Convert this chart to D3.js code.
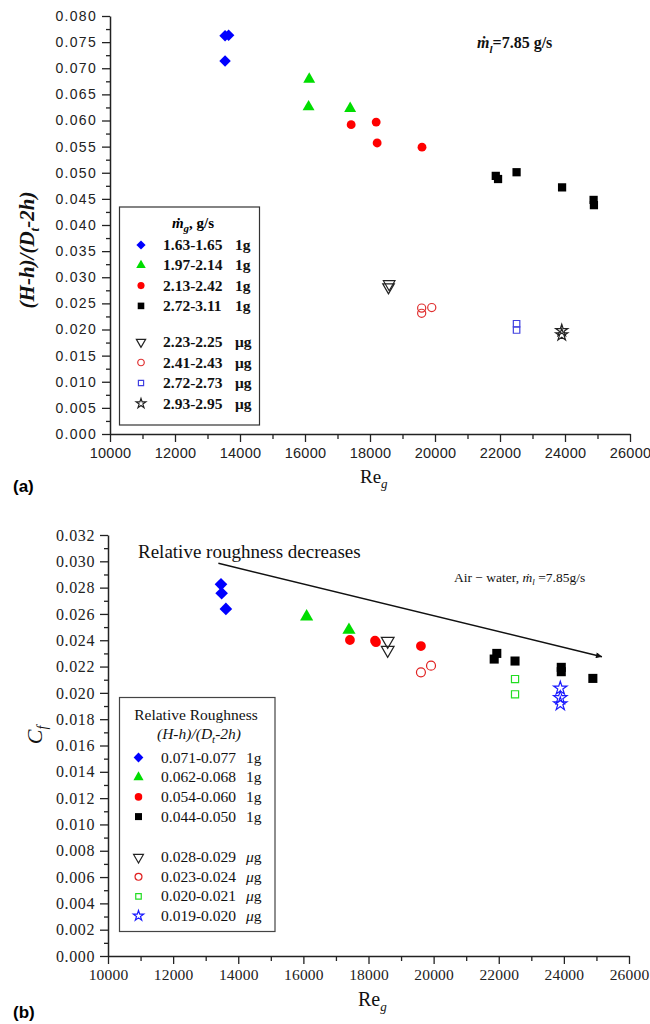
<!DOCTYPE html>
<html><head><meta charset="utf-8">
<script src="https://cdn.jsdelivr.net/npm/d3@7"></script>
<style>body{margin:0;background:#fff}</style>
</head><body><svg id="c" width="650" height="1024"></svg>
<script>
// ---------- tick values ----------
const reTicks = [10000,12000,14000,16000,18000,20000,22000,24000,26000];
const reMinor = [11000,13000,15000,17000,19000,21000,23000,25000];
const topYTicks = [0,0.005,0.010,0.015,0.020,0.025,0.030,0.035,0.040,0.045,0.050,0.055,0.060,0.065,0.070,0.075,0.080];
const botYTicks = [0,0.002,0.004,0.006,0.008,0.010,0.012,0.014,0.016,0.018,0.020,0.022,0.024,0.026,0.028,0.030,0.032];

// ---------- panel (a): Re_g vs (H-h)/(Dt-2h) ----------
const a1g_163 = [[13540,0.0762],[13650,0.0763],[13540,0.0714]];
const a1g_197 = [[16130,0.0679],[16110,0.0626],[17390,0.0623]];
const a1g_213 = [[17420,0.0592],[18190,0.0597],[18220,0.0557],[19600,0.0549]];
const a1g_272 = [[21870,0.0494],[21940,0.0488],[22510,0.0501],[23910,0.0472],[24880,0.0448],[24890,0.0438]];
const aMu_223 = [[18590,0.0287],[18570,0.0281]];
const aMu_241 = [[19590,0.0241],[19590,0.0231],[19900,0.0242]];
const aMu_272 = [[22510,0.0211],[22510,0.0199]];
const aMu_293 = [[23900,0.0198],[23900,0.0190]];
const aLabels = ["1.63-1.65","1.97-2.14","2.13-2.42","2.72-3.11","2.23-2.25","2.41-2.43","2.72-2.73","2.93-2.95"];

// ---------- panel (b): Re_g vs Cf ----------
const b1g_071 = [[13470,0.02825],[13490,0.02757],[13620,0.02638]];
const b1g_062 = [[16100,0.02579],[17400,0.02478]];
const b1g_054 = [[17430,0.02402],[18200,0.02397],[18230,0.02385],[19610,0.02356]];
const b1g_044 = [[21940,0.02300],[21860,0.02257],[22500,0.02242],[23920,0.02194],[23920,0.02161],[24890,0.02110]];
const bMu_028 = [[18590,0.02394],[18590,0.02326]];
const bMu_023 = [[19610,0.02156],[19920,0.02207]];
const bMu_020 = [[22500,0.02105],[22500,0.01989]];
const bMu_019 = [[23890,0.02035],[23890,0.01962],[23890,0.01916]];
const bLabels = ["0.071-0.077","0.062-0.068","0.054-0.060","0.044-0.050","0.028-0.029","0.023-0.024","0.020-0.021","0.019-0.020"];
const bArrow = [[13390,0.02985],[25170,0.02275]];

const svg = d3.select("#c");
const SERIF = "'Liberation Serif','Times New Roman',serif";
const SANS = "'Liberation Sans',Arial,sans-serif";

// marker styles
function sym(type, size, rot){ return {type, size, rot:rot||0}; }
const DIAM = sym(d3.symbolSquare, 66, 45);
const TRI = sym(d3.symbolTriangle, 62, 0);
const TRID = sym(d3.symbolTriangle, 58, 180);
const CIRC = sym(d3.symbolCircle, 62, 0);
const CIRCo = sym(d3.symbolCircle, 52, 0);
const SQ = sym(d3.symbolSquare, 68, 0);
const SQo = sym(d3.symbolSquare, 42, 0);
const STAR = sym(d3.symbolStar, 46, 0);

function drawMarker(g, x, y, st, fill, stroke, scale){
  const s = scale||1;
  g.append("path")
    .attr("d", d3.symbol().type(st.type).size(st.size*s*s)())
    .attr("transform", `translate(${x},${y}) rotate(${st.rot})`)
    .attr("fill", fill).attr("stroke", stroke)
    .attr("stroke-width", stroke==="none"?0:1.2);
}

function axes(g, x, y, yTicks, yStep, fontFam, fontSize, ls, xFontSize, xls, yFmt, xLabelDy){
  const yMinor = yTicks.slice(0,-1).map(v=>v+yStep/2);
  const ax = g.append("g").attr("class","xa").attr("transform",`translate(0,${y.range()[0]})`)
    .call(d3.axisBottom(x).tickValues(reTicks).tickSize(8).tickSizeOuter(0).tickPadding(xLabelDy).tickFormat(d3.format("d")));
  g.append("g").attr("transform",`translate(0,${y.range()[0]})`)
    .call(d3.axisBottom(x).tickValues(reMinor).tickSize(5).tickSizeOuter(0).tickFormat(""))
    .select(".domain").remove();
  const ay = g.append("g").attr("class","ya").attr("transform",`translate(${x.range()[0]},0)`)
    .call(d3.axisLeft(y).tickValues(yTicks).tickSize(8).tickSizeOuter(0).tickPadding(5).tickFormat(yFmt));
  g.append("g").attr("transform",`translate(${x.range()[0]},0)`)
    .call(d3.axisLeft(y).tickValues(yMinor).tickSize(4).tickSizeOuter(0).tickFormat(""))
    .select(".domain").remove();
  g.selectAll(".domain").attr("stroke","#222").attr("stroke-width",1.5);
  g.selectAll(".tick line").attr("stroke","#222").attr("stroke-width",1.3);
  ay.selectAll(".tick text").attr("font-family",fontFam).attr("font-size",fontSize)
    .attr("letter-spacing",ls).attr("fill","#222");
  ax.selectAll(".tick text").attr("font-family",fontFam).attr("font-size",xFontSize)
    .attr("letter-spacing",xls).attr("fill","#222");
}

// ================= Panel (a) =================
const xA = d3.scaleLinear([10000,26000],[110,630]);
const yA = d3.scaleLinear([0,0.08],[434,16]);
const gA = svg.append("g");
axes(gA, xA, yA, topYTicks, 0.005, SANS, 14, "1.3px", 14.5, "0.2px", d3.format(".3f"), 6);

const aSeries = [
  {d:a1g_163, st:DIAM, fill:"#0000ff", stroke:"none"},
  {d:a1g_197, st:TRI, fill:"#00dd00", stroke:"none"},
  {d:a1g_213, st:CIRC, fill:"#ff0000", stroke:"none"},
  {d:a1g_272, st:SQ, fill:"#000", stroke:"none"},
  {d:aMu_223, st:TRID, fill:"none", stroke:"#222"},
  {d:aMu_241, st:CIRCo, fill:"none", stroke:"#e03030"},
  {d:aMu_272, st:SQo, fill:"none", stroke:"#4040e0"},
  {d:aMu_293, st:STAR, fill:"none", stroke:"#222"}
];
aSeries.forEach(s=>s.d.forEach(p=>drawMarker(gA, xA(p[0]), yA(p[1]), s.st, s.fill, s.stroke)));

// legend (a)
gA.append("rect").attr("x",119.5).attr("y",207).attr("width",140).attr("height",218)
  .attr("fill","#fff").attr("stroke","#333").attr("stroke-width",1.2);
const tA = gA.append("text").attr("x",193).attr("y",228).attr("text-anchor","middle")
  .attr("font-family",SERIF).attr("font-size",15).attr("font-weight","bold");
tA.append("tspan").attr("font-style","italic").text("ṁ");
tA.append("tspan").attr("font-style","italic").attr("font-size",11).attr("dy",4).text("g");
tA.append("tspan").attr("dy",-4).text(", g/s");
const aRowY = [245,265.3,285.6,305.9,342,362.5,383,403.5];
aSeries.forEach((s,i)=>{
  drawMarker(gA, 141, aRowY[i], s.st, s.fill, s.stroke, i<4?0.8:0.8);
  gA.append("text").attr("x",163).attr("y",aRowY[i]+5).attr("font-family",SERIF)
    .attr("font-size",15.5).attr("font-weight","bold").attr("fill","#111").text(aLabels[i]);
  gA.append("text").attr("x",235).attr("y",aRowY[i]+5).attr("font-family",SERIF)
    .attr("font-size",15.5).attr("font-weight","bold").attr("fill","#111").text(i<4?"1g":"μg");
});

// annotation (a)
const annA = gA.append("text").attr("x",477).attr("y",48).attr("font-family",SERIF)
  .attr("font-size",16).attr("font-weight","bold").attr("fill","#111");
annA.append("tspan").attr("font-style","italic").text("ṁ");
annA.append("tspan").attr("font-style","italic").attr("font-size",11).attr("dy",5).text("l");
annA.append("tspan").attr("dy",-5).text("=7.85 g/s");

// axis titles (a)
const reA = gA.append("text").attr("x",360).attr("y",483).attr("font-family",SERIF).attr("font-size",19).attr("fill","#111");
reA.append("tspan").text("Re");
reA.append("tspan").attr("font-size",13).attr("dy",5).attr("font-style","italic").text("g");
const ylA = gA.append("text").attr("transform","translate(34,250) rotate(-90)").attr("text-anchor","middle")
  .attr("font-family",SERIF).attr("font-size",21).attr("font-style","italic").attr("font-weight","bold").attr("fill","#111");
ylA.append("tspan").text("(H-h)/(D");
ylA.append("tspan").attr("font-size",13).attr("dy",5).text("t");
ylA.append("tspan").attr("dy",-5).text("-2h)");
gA.append("text").attr("x",13).attr("y",492).attr("font-family",SANS).attr("font-size",17).attr("font-weight","bold").text("(a)");

// ================= Panel (b) =================
const xB = d3.scaleLinear([10000,26000],[108,629]);
const yB = d3.scaleLinear([0,0.032],[956,535]);
const gB = svg.append("g");
axes(gB, xB, yB, botYTicks, 0.002, SERIF, 16, "0.6px", 15.5, "0.2px", d3.format(".3f"), 5);

const bSeries = [
  {d:b1g_071, st:DIAM, fill:"#0000ff", stroke:"none"},
  {d:b1g_062, st:TRI, fill:"#00dd00", stroke:"none"},
  {d:b1g_054, st:CIRC, fill:"#ff0000", stroke:"none"},
  {d:b1g_044, st:SQ, fill:"#000", stroke:"none"},
  {d:bMu_028, st:TRID, fill:"none", stroke:"#222"},
  {d:bMu_023, st:CIRCo, fill:"none", stroke:"#e02020"},
  {d:bMu_020, st:SQo, fill:"none", stroke:"#22dd22"},
  {d:bMu_019, st:STAR, fill:"none", stroke:"#1a1aff"}
];
// arrow
svg.append("defs").append("marker").attr("id","ah").attr("viewBox","0 0 10 10").attr("refX",10).attr("refY",5)
  .attr("markerWidth",9).attr("markerHeight",6).attr("orient","auto").attr("markerUnits","userSpaceOnUse")
  .append("path").attr("d","M0,0L10,5L0,10z").attr("fill","#111");
gB.append("line").attr("x1",xB(bArrow[0][0])).attr("y1",yB(bArrow[0][1]))
  .attr("x2",xB(bArrow[1][0])).attr("y2",yB(bArrow[1][1]))
  .attr("stroke","#111").attr("stroke-width",1.5).attr("marker-end","url(#ah)");

bSeries.forEach(s=>s.d.forEach(p=>drawMarker(gB, xB(p[0]), yB(p[1]), s.st, s.fill, s.stroke, 1.1)));

// legend (b)
gB.append("rect").attr("x",119.5).attr("y",697.5).attr("width",155.5).attr("height",234)
  .attr("fill","#fff").attr("stroke","#444").attr("stroke-width",1.2);
gB.append("text").attr("x",196).attr("y",720).attr("text-anchor","middle").attr("font-family",SERIF)
  .attr("font-size",15.5).attr("fill","#111").text("Relative Roughness");
const tB = gB.append("text").attr("x",199).attr("y",739).attr("text-anchor","middle").attr("font-family",SERIF)
  .attr("font-size",15.5).attr("font-style","italic").attr("fill","#111");
tB.append("tspan").text("(H-h)/(D");
tB.append("tspan").attr("font-size",11).attr("dy",4).text("t");
tB.append("tspan").attr("dy",-4).text("-2h)");
const bRowY = [757.5,777.2,796.9,816.6,857.3,876.8,896.3,915.8];
bSeries.forEach((s,i)=>{
  drawMarker(gB, 138.5, bRowY[i], s.st, s.fill, s.stroke, 0.85);
  gB.append("text").attr("x",161).attr("y",bRowY[i]+5).attr("font-family",SERIF)
    .attr("font-size",15.5).attr("fill","#111").text(bLabels[i]);
  const t = gB.append("text").attr("x",246).attr("y",bRowY[i]+5).attr("font-family",SERIF)
    .attr("font-size",15.5).attr("fill","#111");
  if(i<4) t.text("1g"); else { t.append("tspan").attr("font-style","italic").text("μ"); t.append("tspan").text("g"); }
});

// annotations (b)
gB.append("text").attr("x",138).attr("y",558).attr("font-family",SERIF).attr("font-size",19)
  .attr("fill","#111").text("Relative roughness decreases");
const annB = gB.append("text").attr("x",454).attr("y",582).attr("font-family",SERIF)
  .attr("font-size",13.5).attr("fill","#111");
annB.append("tspan").text("Air − water,  ");
annB.append("tspan").attr("font-style","italic").text("ṁ");
annB.append("tspan").attr("font-style","italic").attr("font-size",9).attr("dy",3).text("l");
annB.append("tspan").attr("dy",-3).text(" =7.85g/s");

// axis titles (b)
const reB = gB.append("text").attr("x",358).attr("y",1006).attr("font-family",SERIF).attr("font-size",20).attr("fill","#111");
reB.append("tspan").text("Re");
reB.append("tspan").attr("font-size",13).attr("dy",5).attr("font-style","italic").text("g");
const ylB = gB.append("text").attr("transform","translate(42,735) rotate(-90)").attr("text-anchor","middle")
  .attr("font-family",SERIF).attr("font-size",22).attr("font-style","italic").attr("fill","#111");
ylB.append("tspan").text("C");
ylB.append("tspan").attr("font-size",14).attr("dy",5).text("f");
gB.append("text").attr("x",13).attr("y",1018).attr("font-family",SANS).attr("font-size",17).attr("font-weight","bold").text("(b)");
</script></body></html>
